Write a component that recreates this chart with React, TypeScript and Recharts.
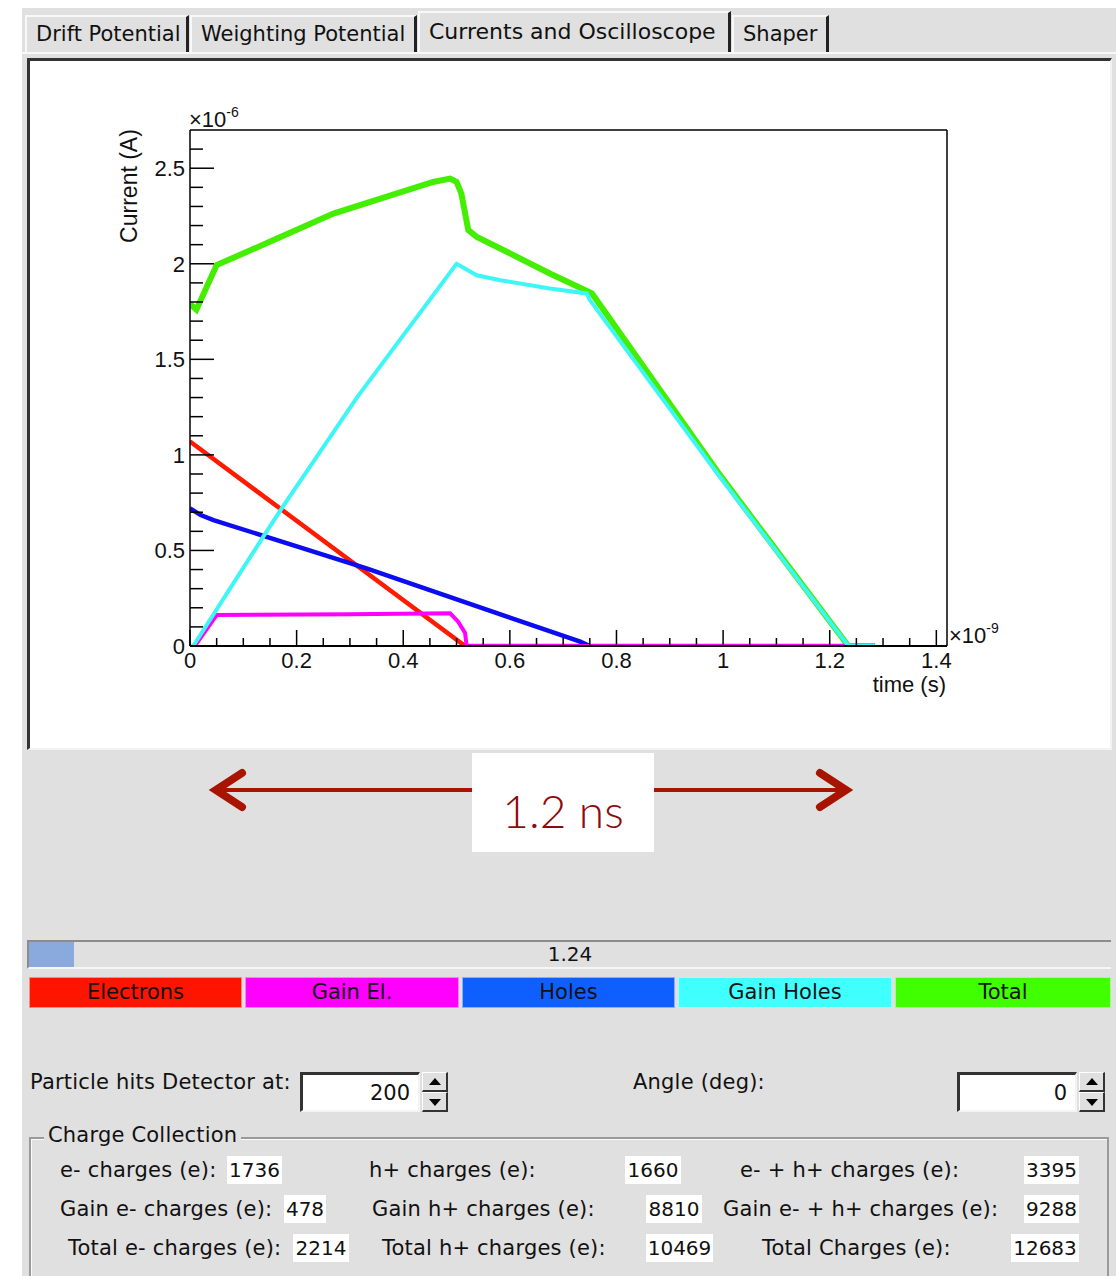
import React from "react";
import { LineChart, Line, XAxis, YAxis } from "recharts";

// time in ns, current in µA
const electronsT = [0, 0.516, 1.235];
const electronsV = [1.07, 0, 0];

const gainElT = [0, 0.009, 0.05, 0.3, 0.488, 0.503, 0.516, 0.519, 1.235];
const gainElV = [0, 0, 0.162, 0.166, 0.171, 0.127, 0.068, 0, 0];

const holesT = [0, 0.02, 0.044, 0.331, 0.6, 0.732, 0.75];
const holesV = [0.72, 0.685, 0.659, 0.406, 0.149, 0.023, 0];

const gainHolesT = [0, 0.006, 0.1375, 0.172, 0.313, 0.5, 0.538, 0.582, 0.675, 0.744, 0.75, 0.99, 1.235, 1.285];
const gainHolesV = [0, 0, 0.572, 0.72, 1.3, 2.0, 1.94, 1.914, 1.871, 1.845, 1.81, 0.9, 0, 0];

const totalT = [0, 0.012, 0.05, 0.156, 0.269, 0.456, 0.488, 0.5, 0.509, 0.522, 0.538, 0.582, 0.675, 0.754, 0.99, 1.235, 1.285];
const totalV = [1.79, 1.76, 1.993, 2.123, 2.263, 2.428, 2.446, 2.428, 2.367, 2.176, 2.141, 2.08, 1.949, 1.845, 0.91, 0, 0];

const xTicks = [0, 0.05, 0.1, 0.15, 0.2, 0.25, 0.3, 0.35, 0.4, 0.45, 0.5, 0.55, 0.6, 0.65, 0.7, 0.75, 0.8, 0.85, 0.9, 0.95, 1, 1.05, 1.1, 1.15, 1.2, 1.25, 1.3, 1.35, 1.4];
const yTicks = [0, 0.1, 0.2, 0.3, 0.4, 0.5, 0.6, 0.7, 0.8, 0.9, 1, 1.1, 1.2, 1.3, 1.4, 1.5, 1.6, 1.7, 1.8, 1.9, 2, 2.1, 2.2, 2.3, 2.4, 2.5, 2.6];

const legendNames = ["Electrons", "Gain El.", "Holes", "Gain Holes", "Total"];
const legendColors = ["#ff1400", "#ff00ff", "#0f5fff", "#40ffff", "#40ff00"];

const toRows = (t: number[], v: number[]) => t.map((x, i) => ({ t: x, v: v[i] }));

const fmt = (v: number) => (Math.abs(v - Math.round(v)) < 1e-6 ? String(Math.round(v)) : v.toFixed(1));
const plotFont = "'Liberation Sans', Arial, sans-serif";
const guiFont = "'DejaVu Sans', sans-serif";

const YTick = (props: any) => {
  const { x, y, payload } = props;
  const v = payload.value;
  const major = Math.abs(v * 2 - Math.round(v * 2)) < 1e-6;
  return (
    <g>
      <line x1={x} x2={x + (major ? 24 : 13)} y1={y} y2={y} stroke="#000" strokeWidth={1.5} />
      {major && (
        <text x={x - 5} y={y + 8} textAnchor="end" fontSize={22} fontFamily={plotFont} fill="#111">
          {fmt(v)}
        </text>
      )}
    </g>
  );
};

const XTick = (props: any) => {
  const { x, y, payload } = props;
  const v = payload.value;
  const major = Math.abs(v * 5 - Math.round(v * 5)) < 1e-6;
  return (
    <g>
      <line x1={x} x2={x} y1={y} y2={y - (major ? 16 : 8)} stroke="#000" strokeWidth={1.5} />
      {major && (
        <text x={x} y={y + 22} textAnchor="middle" fontSize={22} fontFamily={plotFont} fill="#111">
          {fmt(v)}
        </text>
      )}
    </g>
  );
};

const abs = (l: number, t: number, w: number, h: number): React.CSSProperties => ({
  position: "absolute",
  left: l,
  top: t,
  width: w,
  height: h,
  boxSizing: "border-box",
});

const tabs = [
  { label: "Drift Potential", l: 25, w: 164, top: 15, fs: 21 },
  { label: "Weighting Potential", l: 190, w: 227, top: 15, fs: 21 },
  { label: "Currents and Oscilloscope", l: 418, w: 313, top: 11, fs: 22 },
  { label: "Shaper", l: 732, w: 97, top: 15, fs: 21 },
];

const Entry = ({ l, value }: { l: number; value: string }) => (
  <>
    <div
      style={{
        ...abs(l, 1072, 120, 40),
        background: "#fff",
        borderTop: "3px solid #333",
        borderLeft: "3px solid #333",
        borderRight: "2px solid #f4f4f4",
        borderBottom: "2px solid #f4f4f4",
        textAlign: "right",
        paddingRight: 8,
        lineHeight: "36px",
        fontSize: 21,
        fontFamily: guiFont,
        color: "#111",
      }}
    >
      {value}
    </div>
    {[0, 1].map((k) => (
      <div
        key={k}
        style={{
          ...abs(l + 122, 1072 + k * 20, 26, 20),
          background: "#e0e0e0",
          borderTop: "1px solid #fff",
          borderLeft: "1px solid #fff",
          borderRight: "2px solid #333",
          borderBottom: "2px solid #333",
        }}
      >
        <svg width={24} height={18} style={{ position: "absolute", left: 0, top: 0 }}>
          {k === 0 ? <polygon points="6,12 18,12 12,5" fill="#000" /> : <polygon points="6,6 18,6 12,13" fill="#000" />}
        </svg>
      </div>
    ))}
  </>
);

const chargeRows = [
  [
    { label: "e- charges (e):", l: 60, vl: 227, vw: 55, v: "1736" },
    { label: "h+ charges (e):", l: 369, vl: 625, vw: 56, v: "1660" },
    { label: "e- + h+ charges (e):", l: 740, vl: 1024, vw: 55, v: "3395" },
  ],
  [
    { label: "Gain e- charges (e):", l: 60, vl: 284, vw: 42, v: "478" },
    { label: "Gain h+ charges (e):", l: 372, vl: 646, vw: 56, v: "8810" },
    { label: "Gain e- + h+ charges (e):", l: 723, vl: 1024, vw: 55, v: "9288" },
  ],
  [
    { label: "Total e- charges (e):", l: 68, vl: 293, vw: 56, v: "2214" },
    { label: "Total h+ charges (e):", l: 382, vl: 646, vw: 67, v: "10469" },
    { label: "Total Charges (e):", l: 762, vl: 1011, vw: 68, v: "12683" },
  ],
];
const rowTops = [1156, 1195, 1234];
const textStyle: React.CSSProperties = { fontFamily: guiFont, fontSize: 21, color: "#111", whiteSpace: "nowrap", letterSpacing: 0.2 };

export default function App() {
  return (
    <div style={{ position: "absolute", left: 0, top: 0, width: 1116, height: 1276, background: "#fff", overflow: "hidden" }}>
      <div style={{ ...abs(22, 8, 1094, 1268), background: "#e0e0e0" }} />

      {tabs.map((tb) => (
        <div
          key={tb.label}
          style={{
            ...abs(tb.l, tb.top, tb.w, 53 - tb.top),
            background: "#e0e0e0",
            borderTop: "2px solid #f8f8f8",
            borderLeft: "2px solid #f8f8f8",
            borderRight: "3px solid #222",
            fontFamily: guiFont,
            fontSize: tb.fs,
            color: "#111",
            paddingLeft: 9,
            lineHeight: `${53 - tb.top - 4}px`,
            whiteSpace: "nowrap",
          }}
        >
          {tb.label}
        </div>
      ))}
      <div style={{ ...abs(22, 52, 1094, 2), background: "#f8f8f8" }} />

      {/* canvas */}
      <div
        style={{
          ...abs(27, 58, 1085, 692),
          background: "#fff",
          borderTop: "3px solid #333",
          borderLeft: "3px solid #333",
          borderRight: "2px solid #f2f2f2",
          borderBottom: "2px solid #f2f2f2",
        }}
      />

      <div style={{ ...abs(0, 0, 1000, 720) }}>
        <LineChart width={1000} height={720} margin={{ top: 129, left: 189, right: 52, bottom: 73 }}>
          <XAxis
            dataKey="t"
            type="number"
            domain={[0, 1.42]}
            ticks={xTicks}
            interval={0}
            height={1}
            tickSize={0}
            tickMargin={0}
            tick={<XTick />}
            axisLine={{ stroke: "#000", strokeWidth: 2 }}
            allowDataOverflow
          />
          <XAxis xAxisId="top" orientation="top" type="number" domain={[0, 1.42]} height={1} tick={false} tickLine={false} axisLine={{ stroke: "#000", strokeWidth: 1.5 }} />
          <YAxis
            type="number"
            domain={[0, 2.7]}
            ticks={yTicks}
            interval={0}
            width={1}
            tickSize={0}
            tickMargin={0}
            tick={<YTick />}
            axisLine={{ stroke: "#000", strokeWidth: 1.5 }}
            allowDataOverflow
          />
          <YAxis yAxisId="right" orientation="right" type="number" domain={[0, 2.7]} width={1} tick={false} tickLine={false} axisLine={{ stroke: "#000", strokeWidth: 1.5 }} />
          <Line data={toRows(totalT, totalV)} dataKey="v" type="linear" stroke="#44ee00" strokeWidth={6} dot={false} isAnimationActive={false} />
          <Line data={toRows(electronsT, electronsV)} dataKey="v" type="linear" stroke="#ff1a00" strokeWidth={4.5} dot={false} isAnimationActive={false} />
          <Line data={toRows(holesT, holesV)} dataKey="v" type="linear" stroke="#0c0cf0" strokeWidth={4.5} dot={false} isAnimationActive={false} />
          <Line data={toRows(gainElT, gainElV)} dataKey="v" type="linear" stroke="#ff00ff" strokeWidth={4} dot={false} isAnimationActive={false} />
          <Line data={toRows(gainHolesT, gainHolesV)} dataKey="v" type="linear" stroke="#3ff6f6" strokeWidth={4} dot={false} isAnimationActive={false} />
        </LineChart>
      </div>

      {/* axis annotations */}
      <div style={{ position: "absolute", left: 189, top: 106, fontFamily: plotFont, fontSize: 22, color: "#111", whiteSpace: "nowrap" }}>
        ×10<sup style={{ fontSize: 14, position: "relative", top: -2 }}>-6</sup>
      </div>
      <div style={{ position: "absolute", left: 949, top: 622, fontFamily: plotFont, fontSize: 22, color: "#111", whiteSpace: "nowrap" }}>
        ×10<sup style={{ fontSize: 14, position: "relative", top: -2 }}>-9</sup>
      </div>
      <div style={{ position: "absolute", right: 1116 - 946, top: 674, fontFamily: plotFont, fontSize: 22, lineHeight: "22px", color: "#111", whiteSpace: "nowrap" }}>
        time (s)
      </div>
      <div
        style={{
          position: "absolute",
          left: 129,
          top: 186,
          transform: "translate(-50%, -50%) rotate(-90deg)",
          fontFamily: plotFont,
          fontSize: 23,
          color: "#111",
          whiteSpace: "nowrap",
        }}
      >
        Current (A)
      </div>

      {/* 1.2 ns annotation */}
      <svg style={{ position: "absolute", left: 0, top: 740 }} width={1116} height={120}>
        <line x1={216} y1={50} x2={472} y2={50} stroke="#a81400" strokeWidth={4} />
        <polyline points="242,33 216,50 242,67" fill="none" stroke="#a81400" strokeWidth={8} strokeLinecap="round" strokeLinejoin="miter" />
        <line x1={654} y1={50} x2={846} y2={50} stroke="#a81400" strokeWidth={4} />
        <polyline points="820,33 846,50 820,67" fill="none" stroke="#a81400" strokeWidth={8} strokeLinecap="round" strokeLinejoin="miter" />
      </svg>
      <div
        style={{
          ...abs(472, 753, 182, 99),
          background: "#fff",
          textAlign: "center",
          paddingTop: 8,
          lineHeight: "99px",
          fontFamily: "Lato, 'Open Sans', sans-serif",
          fontWeight: 300,
          fontSize: 46,
          color: "#8c0c0c",
        }}
      >
        1.2 ns
      </div>

      {/* progress bar */}
      <div
        style={{
          ...abs(27, 940, 1084, 29),
          background: "#e0e0e0",
          borderTop: "2px solid #8c8c8c",
          borderLeft: "2px solid #8c8c8c",
          borderBottom: "2px solid #f6f6f6",
          textAlign: "center",
          fontFamily: guiFont,
          fontSize: 20,
          lineHeight: "25px",
          color: "#111",
        }}
      >
        <div style={{ ...abs(0, 0, 45, 25), background: "#8aaade" }} />
        <span style={{ position: "relative" }}>1.24</span>
      </div>

      {legendNames.map((n, i) => {
        const lefts = [29, 245, 462, 678, 895];
        const widths = [213, 214, 213, 214, 216];
        return (
          <div
            key={n}
            style={{
              ...abs(lefts[i], 977, widths[i], 31),
              background: legendColors[i],
              border: "1px solid rgba(255,255,255,0.5)",
              textAlign: "center",
              fontFamily: guiFont,
              fontSize: 21,
              lineHeight: "29px",
              color: "#111",
            }}
          >
            {n}
          </div>
        );
      })}

      {/* controls */}
      <div style={{ position: "absolute", left: 30, top: 1070, ...textStyle }}>Particle hits Detector at:</div>
      <Entry l={300} value="200" />
      <div style={{ position: "absolute", left: 633, top: 1070, ...textStyle }}>Angle (deg):</div>
      <Entry l={957} value="0" />

      {/* charge collection group */}
      <div
        style={{
          ...abs(29, 1137, 1080, 160),
          borderTop: "2px solid #9a9a9a",
          borderLeft: "2px solid #9a9a9a",
          borderRight: "2px solid #9a9a9a",
          boxShadow: "inset 1px 1px 0 #fafafa",
        }}
      />
      <div style={{ position: "absolute", left: 44, top: 1123, padding: "0 4px", background: "#e0e0e0", ...textStyle }}>Charge Collection</div>
      {chargeRows.map((row, r) =>
        row.map((c) => (
          <React.Fragment key={c.label}>
            <div style={{ position: "absolute", left: c.l, top: rowTops[r], height: 28, lineHeight: "28px", ...textStyle }}>{c.label}</div>
            <div
              style={{
                ...abs(c.vl, rowTops[r], c.vw, 28),
                background: "#fff",
                lineHeight: "28px",
                fontFamily: guiFont,
                fontSize: 20,
                color: "#111",
                textAlign: "center",
                whiteSpace: "nowrap",
              }}
            >
              {c.v}
            </div>
          </React.Fragment>
        ))
      )}
    </div>
  );
}
